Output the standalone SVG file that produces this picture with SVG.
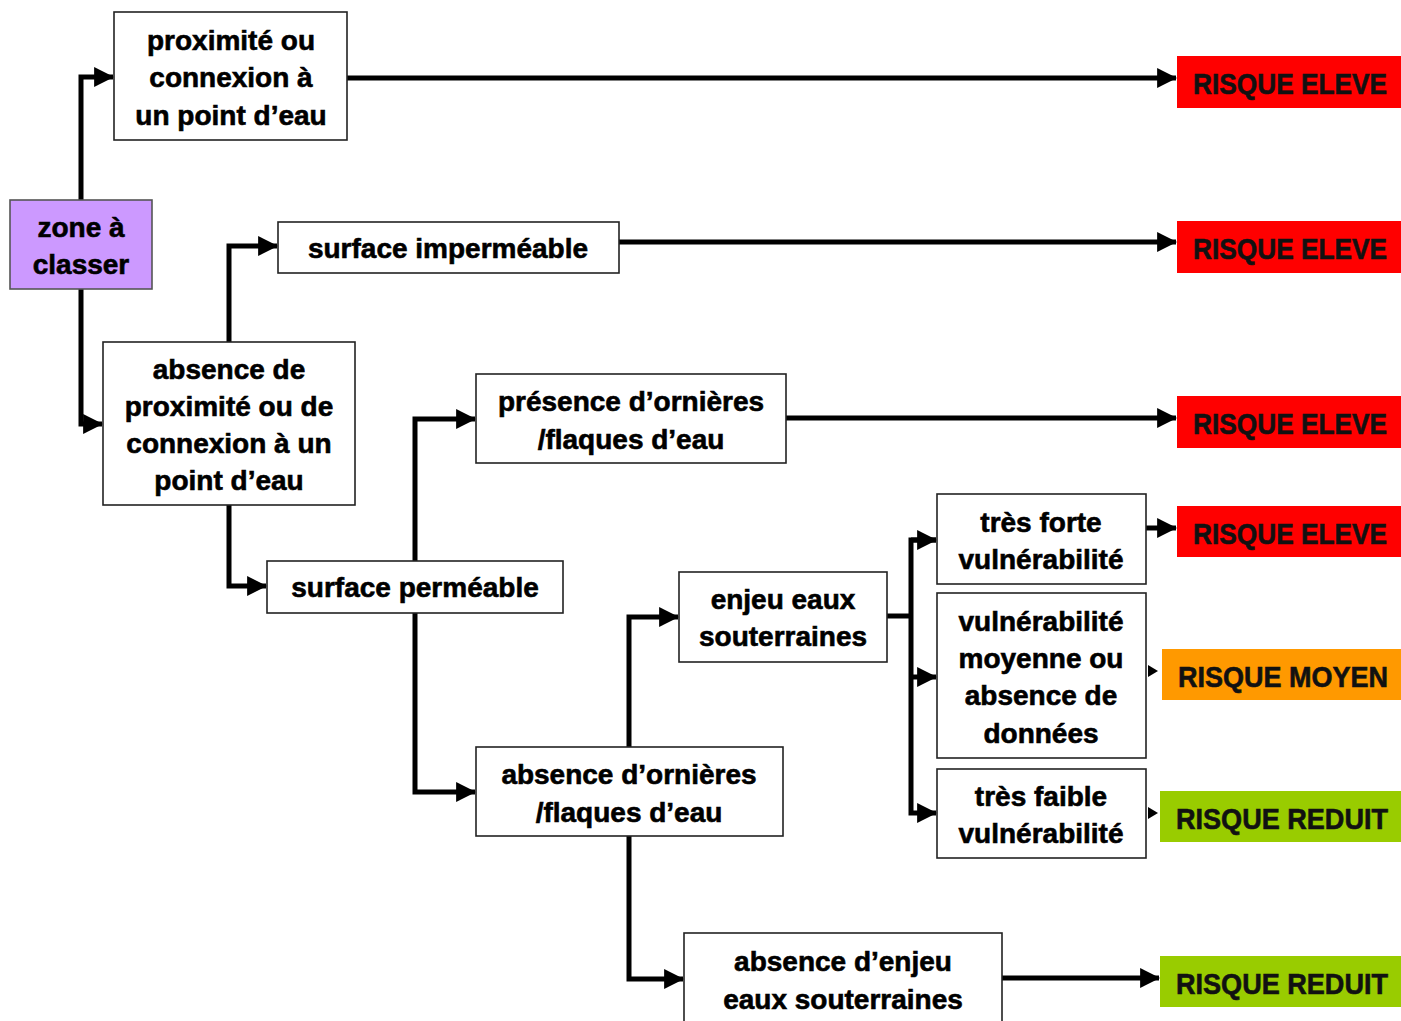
<svg xmlns="http://www.w3.org/2000/svg" width="1401" height="1021" viewBox="0 0 1401 1021">
<defs>
<style>
.box{fill:#fff;stroke:#222;stroke-width:1.6}
.t{font-family:"Liberation Sans",Arial,sans-serif;font-weight:bold;font-size:28px;fill:#000;stroke:#000;stroke-width:0.6;text-anchor:middle}
.r{font-family:"Liberation Sans",Arial,sans-serif;font-weight:bold;font-size:29px;fill:#111;stroke:#111;stroke-width:0.6;text-anchor:middle}
.c{fill:none;stroke:#000;stroke-width:5;stroke-linejoin:miter}
</style>
<marker id="ah" markerUnits="userSpaceOnUse" markerWidth="20" markerHeight="20" viewBox="0 0 18 18" refX="17" refY="9" orient="auto">
<polygon points="0,0 18,9 0,18" fill="#000"/>
</marker>
</defs>
<rect width="1401" height="1021" fill="#fff"/>
<g id="connectors">
<polyline class="c" points="81,200 81,77 113,77" marker-end="url(#ah)"/>
<polyline class="c" points="81,289 81,424 102,424" marker-end="url(#ah)"/>
<polyline class="c" points="345,78 1176,78" marker-end="url(#ah)"/>
<polyline class="c" points="229,342 229,246 277,246" marker-end="url(#ah)"/>
<polyline class="c" points="619,242 1176,242" marker-end="url(#ah)"/>
<polyline class="c" points="229,505 229,586 266,586" marker-end="url(#ah)"/>
<polyline class="c" points="415,561 415,419 475,419" marker-end="url(#ah)"/>
<polyline class="c" points="786,418 1176,418" marker-end="url(#ah)"/>
<polyline class="c" points="415,613 415,792 475,792" marker-end="url(#ah)"/>
<polyline class="c" points="629,747 629,617 678,617" marker-end="url(#ah)"/>
<polyline class="c" points="629,836 629,979 683,979" marker-end="url(#ah)"/>
<polyline class="c" points="887,616 911,616"/>
<polyline class="c" points="936,540 911,540 911,813 936,813" marker-end="url(#ah)"/>
<polyline class="c" points="911,540 936,540" marker-end="url(#ah)"/>
<polyline class="c" points="911,677 936,677" marker-end="url(#ah)"/>
<polyline class="c" points="1146,528 1176,528" marker-end="url(#ah)"/>
<polygon points="1148,665 1158,671 1148,677" fill="#000"/>
<polygon points="1148,807 1158,813 1148,819" fill="#000"/>
<polyline class="c" points="1002,978 1159,978" marker-end="url(#ah)"/>
</g>
<g id="n-zone"><rect x="10" y="200" width="142" height="89" fill="#cc99ff" stroke="#555" stroke-width="1.6"/>
<text class="t" x="81" y="237">zone à</text><text class="t" x="81" y="274">classer</text></g>
<g id="n-prox"><rect class="box" x="114" y="12" width="233" height="128"/>
<text class="t" x="231" y="50">proximité ou</text><text class="t" x="231" y="87">connexion à</text><text class="t" x="231" y="125">un point d’eau</text></g>
<g id="n-imper"><rect class="box" x="278" y="222" width="341" height="51"/>
<text class="t" x="448" y="258">surface imperméable</text></g>
<g id="n-absprox"><rect class="box" x="103" y="342" width="252" height="163"/>
<text class="t" x="229" y="379">absence de</text><text class="t" x="229" y="416">proximité ou de</text><text class="t" x="229" y="453">connexion à un</text><text class="t" x="229" y="490">point d’eau</text></g>
<g id="n-pres"><rect class="box" x="476" y="374" width="310" height="89"/>
<text class="t" x="631" y="411">présence d’ornières</text><text class="t" x="631" y="449">/flaques d’eau</text></g>
<g id="n-perm"><rect class="box" x="267" y="561" width="296" height="52"/>
<text class="t" x="415" y="597">surface perméable</text></g>
<g id="n-enjeu"><rect class="box" x="679" y="572" width="208" height="90"/>
<text class="t" x="783" y="609">enjeu eaux</text><text class="t" x="783" y="646">souterraines</text></g>
<g id="n-absorn"><rect class="box" x="476" y="747" width="307" height="89"/>
<text class="t" x="629" y="784">absence d’ornières</text><text class="t" x="629" y="822">/flaques d’eau</text></g>
<g id="n-forte"><rect class="box" x="937" y="494" width="209" height="90"/>
<text class="t" x="1041" y="532">très forte</text><text class="t" x="1041" y="569">vulnérabilité</text></g>
<g id="n-moy"><rect class="box" x="937" y="593" width="209" height="165"/>
<text class="t" x="1041" y="631">vulnérabilité</text><text class="t" x="1041" y="668">moyenne ou</text><text class="t" x="1041" y="705">absence de</text><text class="t" x="1041" y="743">données</text></g>
<g id="n-faible"><rect class="box" x="937" y="769" width="209" height="89"/>
<text class="t" x="1041" y="806">très faible</text><text class="t" x="1041" y="843">vulnérabilité</text></g>
<g id="n-absenj"><rect class="box" x="684" y="933" width="318" height="95"/>
<text class="t" x="843" y="971">absence d’enjeu</text><text class="t" x="843" y="1009">eaux souterraines</text></g>
<g id="r1"><rect x="1177" y="56" width="224" height="52" fill="#ff0000"/><text class="r" x="1290" y="94" textLength="194" lengthAdjust="spacingAndGlyphs">RISQUE ELEVE</text></g>
<g id="r2"><rect x="1177" y="221" width="224" height="52" fill="#ff0000"/><text class="r" x="1290" y="259" textLength="194" lengthAdjust="spacingAndGlyphs">RISQUE ELEVE</text></g>
<g id="r3"><rect x="1177" y="396" width="224" height="52" fill="#ff0000"/><text class="r" x="1290" y="434" textLength="194" lengthAdjust="spacingAndGlyphs">RISQUE ELEVE</text></g>
<g id="r4"><rect x="1177" y="506" width="224" height="51" fill="#ff0000"/><text class="r" x="1290" y="544" textLength="194" lengthAdjust="spacingAndGlyphs">RISQUE ELEVE</text></g>
<g id="r5"><rect x="1162" y="649" width="239" height="51" fill="#ff9900"/><text class="r" x="1283" y="687" textLength="210" lengthAdjust="spacingAndGlyphs">RISQUE MOYEN</text></g>
<g id="r6"><rect x="1160" y="791" width="241" height="51" fill="#99cc00"/><text class="r" x="1282" y="829" textLength="212" lengthAdjust="spacingAndGlyphs">RISQUE REDUIT</text></g>
<g id="r7"><rect x="1160" y="956" width="241" height="51" fill="#99cc00"/><text class="r" x="1282" y="994" textLength="212" lengthAdjust="spacingAndGlyphs">RISQUE REDUIT</text></g>
</svg>
